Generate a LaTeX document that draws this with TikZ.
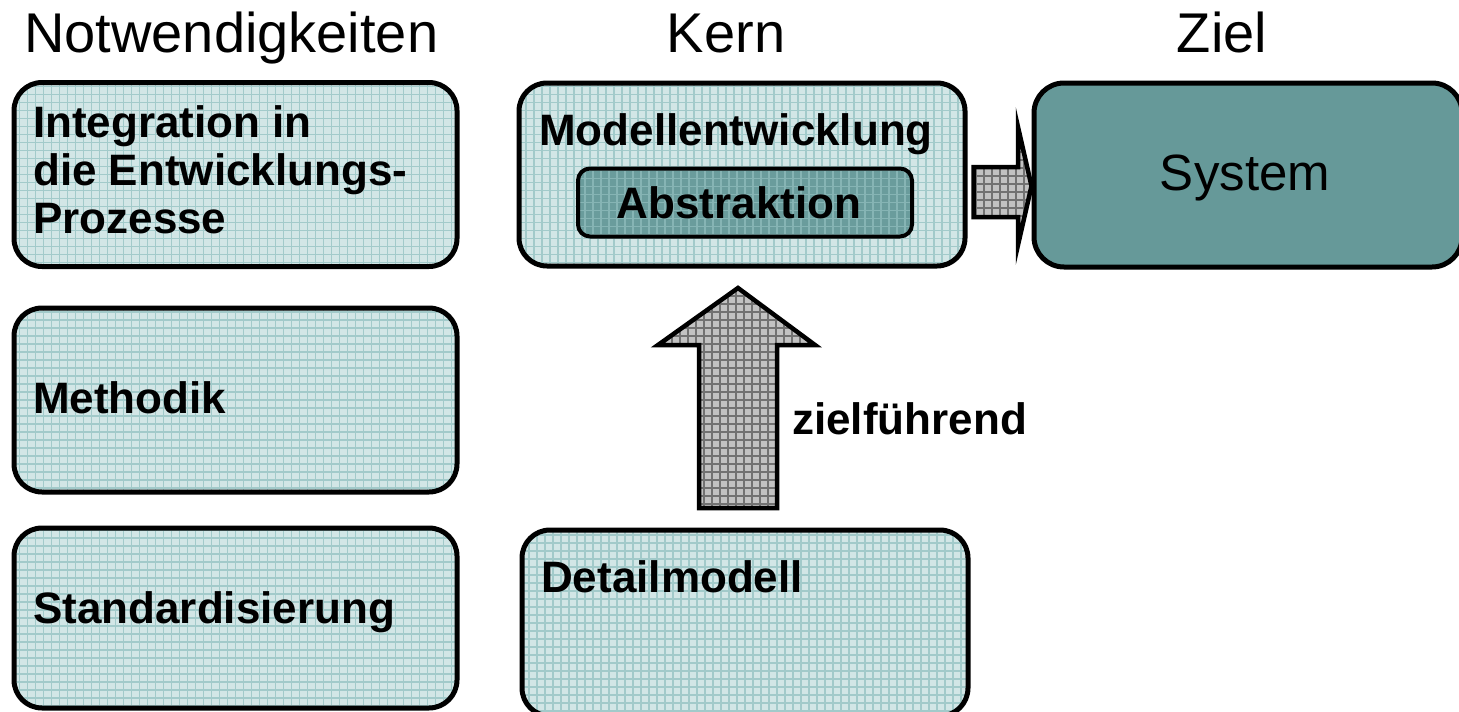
\documentclass[tikz,border=0pt]{standalone}
\usepackage{fontspec}
\setmainfont{Liberation Sans}
\definecolor{boxbase}{HTML}{D2E6E6}
\definecolor{boxgrid}{HTML}{A2CACA}
\definecolor{tealbase}{HTML}{6A9C9C}
\definecolor{tealgrid}{HTML}{86B4B4}
\definecolor{systemfill}{HTML}{669999}
\definecolor{arrowbase}{HTML}{C2C2C2}
\definecolor{arrowgrid}{HTML}{727272}
\tikzset{
  gridfill/.style 2 args={fill=#1,
    path picture={\draw[#2, line width=1.4pt]
      (path picture bounding box.south west) grid[step=8pt]
      (path picture bounding box.north east);}},
  lightbox/.style={draw=black, line width=5pt, rounded corners=28pt,
    gridfill={boxbase}{boxgrid}, inner sep=0pt},
  innerbox/.style={draw=black, line width=4pt, rounded corners=12pt,
    gridfill={tealbase}{tealgrid}, inner sep=0pt},
  goalbox/.style={draw=black, line width=5pt, rounded corners=30pt,
    fill=systemfill, inner sep=0pt},
  blockarrow/.style={draw=black, line width=4.5pt, line join=miter,
    gridfill={arrowbase}{arrowgrid}},
  heading/.style={font=\fontsize{56}{60}\selectfont, inner sep=0pt, anchor=base},
  boxlabel/.style={font=\fontsize{44}{48}\selectfont\bfseries, inner sep=0pt,
    anchor=base west, align=left},
}
\begin{document}
\begin{tikzpicture}[x=1pt,y=-1pt]
\useasboundingbox (0,0) rectangle (1459,712);

% column headings
\node[heading, anchor=base west] (hneed) at (24,52) {Notwendigkeiten};
\node[heading] (hcore) at (726,52) {Kern};
\node[heading] (hgoal) at (1222,52) {Ziel};

% left column: requirements
\node[lightbox, minimum width=443pt, minimum height=184pt] (integ) at (235.5,174.5) {};
\node[lightbox, minimum width=443pt, minimum height=184pt] (meth) at (235.5,400) {};
\node[lightbox, minimum width=443pt, minimum height=180pt] (std) at (235.5,618) {};

\node[boxlabel, anchor=north west] (tinteg) at (33,105)
  {Integration in\\die Entwicklungs-\\Prozesse};
\node[boxlabel] (tmeth) at (33,413) {Methodik};
\node[boxlabel] (tstd) at (33,623) {Standardisierung};

% middle column: core
\node[lightbox, minimum width=446pt, minimum height=183pt] (model) at (742,174.5) {};
\node[boxlabel] (tmodel) at (539,145) {Modellentwicklung};
\node[innerbox, minimum width=334pt, minimum height=68pt] (abstr) at (745,202.5) {};
\node[boxlabel, anchor=base] (tabstr) at (739,218) {Abstraktion};

\node[lightbox, minimum width=446pt, minimum height=186pt] (detail) at (745,623) {};
\node[boxlabel] (tdetail) at (541,592) {Detailmodell};

% right column: goal
\node[goalbox, minimum width=428pt, minimum height=184pt] (system) at (1248,175) {};
\node[font=\fontsize{51}{56}\selectfont, inner sep=0pt, anchor=base] (tsystem) at (1245,190) {System};

% block arrow from the core model towards the system
\draw[blockarrow] (model.east |- 0,167) ++(6,0) coordinate (ra1)
  -- (1018,167) -- (1018,127) -- (system.west |- 0,186) -- (1018,245)
  -- (1018,217) -- (ra1 |- 0,217) -- cycle;

% block arrow from the detailed model up to the core model
\draw[blockarrow] (699,508) -- (699,345) -- (658,345) -- (738,288)
  -- (815,345) -- (777,345) -- (777,508) -- cycle;
\node[boxlabel] (tgoal) at (792,434) {zielführend};
\end{tikzpicture}
\end{document}
